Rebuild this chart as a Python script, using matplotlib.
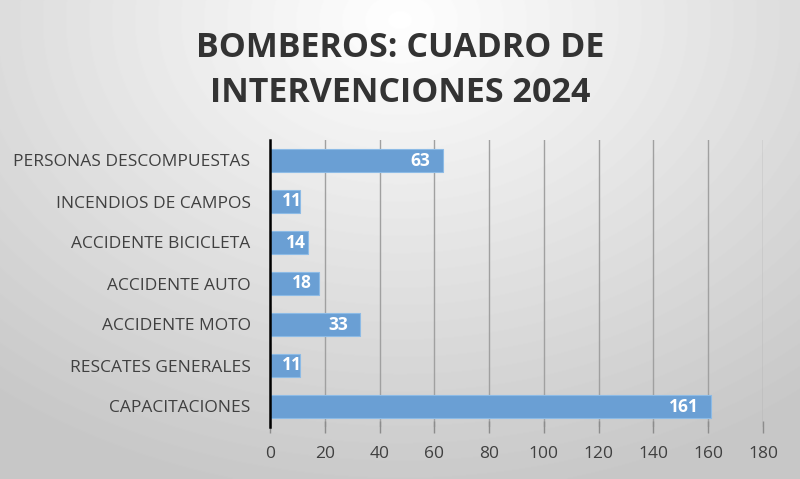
import numpy as np
import matplotlib.pyplot as plt

categories = [
    "CAPACITACIONES",
    "RESCATES GENERALES",
    "ACCIDENTE MOTO",
    "ACCIDENTE AUTO",
    "ACCIDENTE BICICLETA",
    "INCENDIOS DE CAMPOS",
    "PERSONAS DESCOMPUESTAS",
]
values = [161, 11, 33, 18, 14, 11, 63]
xticks = [0, 20, 40, 60, 80, 100, 120, 140, 160, 180]

plt.rcParams["font.family"] = ["Open Sans", "DejaVu Sans"]

fig = plt.figure(figsize=(8, 4.79), dpi=100)

# radial gradient background
bg = fig.add_axes([0, 0, 1, 1], zorder=-10)
yy, xx = np.mgrid[0:479, 0:800]
r = np.sqrt(((xx - 400) / 560.0) ** 2 + ((yy - 20) / 420.0) ** 2)
shade = np.clip(1.0 - 0.19 * r, 0.78, 1.0)
bg.imshow(shade, cmap="gray", vmin=0, vmax=1, aspect="auto", extent=[0, 1, 0, 1])
bg.axis("off")

ax = fig.add_axes([270 / 800, 1 - 427 / 479, (763 - 270) / 800, (427 - 140) / 479])
ax.set_facecolor("none")

y = np.arange(len(categories))
bars = ax.barh(y, values, height=0.55, color="#6a9fd4", edgecolor="#8dbbe6", linewidth=0.8, zorder=3)
for b, v in zip(bars, values):
    yc = b.get_y() + b.get_height() / 2
    if v < 20:
        ax.text(v / 2 + 2.5, yc, str(v), ha="center", va="center", color="white",
                fontsize=12.5, fontweight="bold", zorder=4)
    else:
        ax.text(v - 4.5, yc, str(v), ha="right", va="center", color="white",
                fontsize=12.5, fontweight="bold", zorder=4)

ax.set_xlim(0, 180)
ax.set_ylim(-0.5, len(categories) - 0.5)
ax.set_xticks(xticks)
ax.set_yticks(y)
ax.set_yticklabels(categories, fontsize=12.5, color="#404040")
ax.tick_params(axis="y", length=0, pad=14)
ax.tick_params(axis="x", length=8, width=1, color="#8c8c8c", labelsize=12.5, labelcolor="#404040", pad=10, direction="inout")
ax.grid(axis="x", color="#a0a0a0", linewidth=1, zorder=0)
for s in ["top", "right", "bottom"]:
    ax.spines[s].set_visible(False)
ax.spines["left"].set_color("black")
ax.spines["left"].set_linewidth(1.8)
ax.spines["left"].set_zorder(5)

fig.text(0.5, 0.853, "BOMBEROS: CUADRO DE\nINTERVENCIONES 2024", ha="center", va="center",
         fontsize=24.5, fontweight="bold", color="#333333", linespacing=1.45)

fig.savefig("out.png", dpi=100)
